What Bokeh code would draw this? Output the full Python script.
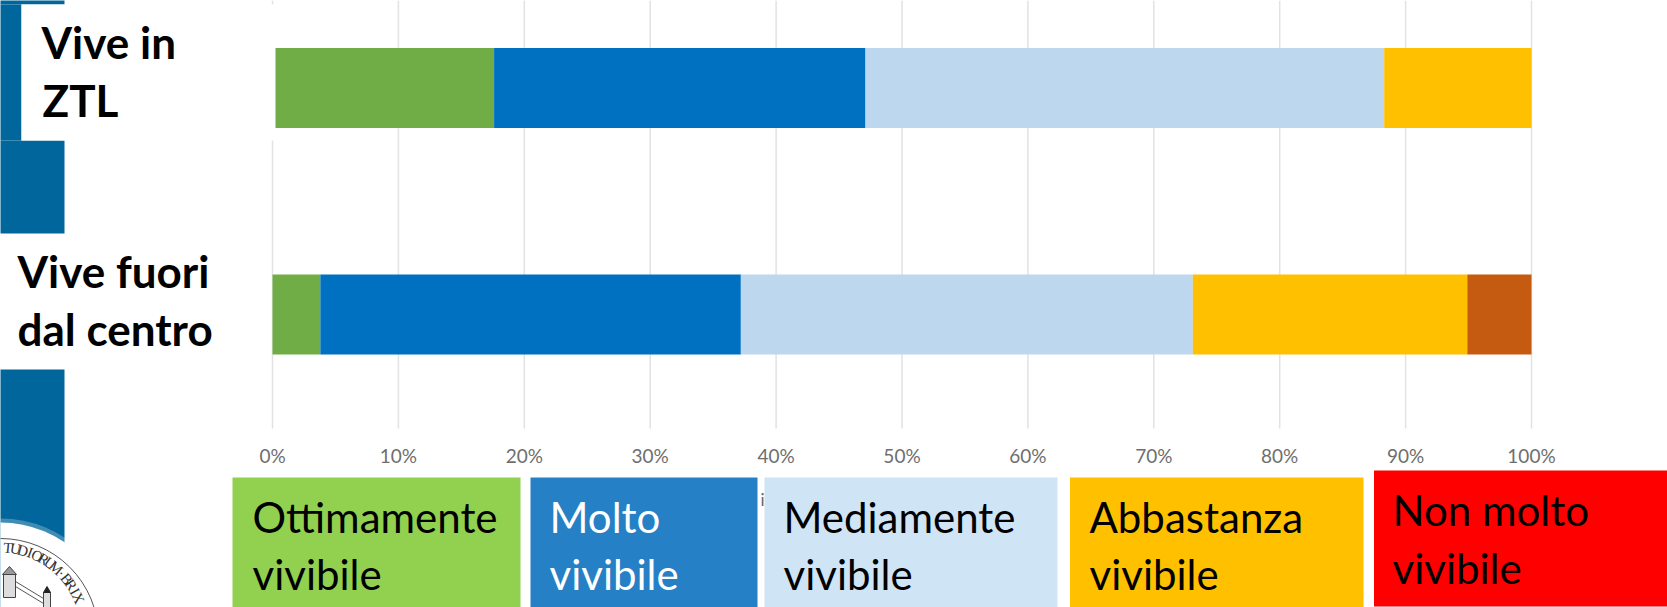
from bokeh.embed import file_html
from bokeh.resources import INLINE
from bokeh.plotting import figure
from bokeh.core.properties import value
from bokeh.models import Range1d, LinearAxis, FixedTicker, PrintfTickFormatter
import math

# ---- data
categories = ["Vive in ZTL", "Vive fuori dal centro"]
ottimamente = [17.6, 3.8]
molto = [29.5, 33.4]
mediamente = [41.2, 35.9]
abbastanza = [11.7, 21.8]
non_molto = [0.0, 5.1]
series_colors = ["#70AD47", "#0070C0", "#BDD7EE", "#FFC000", "#C55A11"]
tick_values = [0, 10, 20, 30, 40, 50, 60, 70, 80, 90, 100]

# ---- layout (page pixels)
W, H = 1667, 607
X0, X100 = 272.0, 1531.0
ROW0, ROW1 = 87.5, 314.0
BAR_PX = 80.0
PX_PER_PCT = (X100 - X0) / 100
PX_PER_ROW = ROW1 - ROW0
px_to_row = lambda y: (y - ROW0) / PX_PER_ROW

p = figure(width=W, height=H, output_backend="svg", toolbar_location=None,
           x_range=Range1d(-X0 / PX_PER_PCT, (W - X0) / PX_PER_PCT),
           y_range=Range1d(px_to_row(H), px_to_row(0)),
           x_axis_location=None, y_axis_location=None,
           min_border=0, outline_line_color=None, background_fill_color="white",
           border_fill_color="white")
p.grid.visible = False
p.extra_x_ranges["px"] = Range1d(0, W)
p.extra_y_ranges["px"] = Range1d(H, 0)
PX = dict(x_range_name="px", y_range_name="px")

# gridlines
p.segment(x0=tick_values, x1=tick_values, y0=[px_to_row(0)] * 11, y1=[px_to_row(428)] * 11,
          line_color="#e2e2e2", line_width=1.5)

# stacked bars
rows = list(range(len(categories)))
left = [0.0] * len(rows)
for vals, col in zip([ottimamente, molto, mediamente, abbastanza, non_molto], series_colors):
    right = [a + b for a, b in zip(left, vals)]
    p.hbar(y=rows, left=left, right=right, height=BAR_PX / PX_PER_ROW, fill_color=col, line_color=None)
    left = right

# axis
ax = LinearAxis(ticker=FixedTicker(ticks=tick_values), formatter=PrintfTickFormatter(format="%d%%"),
                axis_line_color=None, major_tick_line_color=None, minor_tick_line_color=None,
                major_label_text_font="Lato", major_label_text_font_size="19px",
                major_label_text_color="#6e6e6e", major_label_standoff=9,
                fixed_location=px_to_row(428))
p.add_layout(ax, "below")

# slide furniture
BAND = "#00669B"
p.quad(left=[-5, -5, -5], right=[64, 21, 64], top=[-5, 4, 140], bottom=[4, 140, 233],
       fill_color=BAND, line_color=None, **PX)
p.quad(left=[-5], right=[64], top=[369], bottom=[612], fill_color=BAND, line_color=None, **PX)
p.quad(left=[21], right=[275], top=[4], bottom=[140], fill_color="white", line_color=None, **PX)

# bar labels
lab_txt = ["Vive in", "ZTL", "Vive fuori", "dal centro"]
lab_x = [41, 42, 17, 17]
lab_y = [59, 117, 288, 346]
p.text(x=lab_x, y=[v - 18 for v in lab_y], text=lab_txt, text_font=value("Lato"), text_font_style="bold",
       text_font_size="44px", text_color="black", text_baseline="alphabetic", **PX)

# legend boxes
box_l = [232, 530, 764, 1069.5, 1373.5]
box_r = [520, 757, 1057, 1363, 1672]
box_t = [477, 477, 477, 477, 470]
box_c = ["#92D050", "#2580C6", "#CFE4F5", "#FFC000", "#FF0000"]
p.quad(left=box_l, right=box_r, top=box_t, bottom=[612, 612, 612, 612, 606],
       fill_color=box_c, line_color=None, **PX)
leg_first = ["Ottimamente", "Molto", "Mediamente", "Abbastanza", "Non molto"]
leg_second = ["vivibile"] * 5
leg_x = [252, 549, 783, 1089, 1392]
leg_y1 = [533, 533, 533, 533, 526]
leg_y2 = [590, 590, 590, 590, 584]
leg_col = ["black", "white", "black", "black", "black"]
for ys, txt in ((leg_y1, leg_first), (leg_y2, leg_second)):
    p.text(x=leg_x, y=[v - 17 for v in ys], text=txt, text_font=value("Lato"), text_font_size="42px",
           text_color=leg_col, text_baseline="alphabetic", **PX)
p.text(x=[760], y=[499], text=["i"], text_font=value("Lato"), text_font_size="17px",
       text_color="#666666", text_baseline="alphabetic", **PX)

# seal
CX, CY = 0, 636
p.circle(x=[CX], y=[CY], radius=118, fill_color="white", fill_alpha=0.25, line_color=None, **PX)
p.circle(x=[CX], y=[CY], radius=114, fill_color="white", line_color=None, **PX)
p.circle(x=[CX], y=[CY], radius=98, fill_color=None, line_color="#555555", line_width=1, **PX)
seal = "TUDIORUM·BRIX"
TX, TY = 0, 632
angs = [5 + 5.1 * i for i in range(len(seal))]
sx = [TX + 85 * math.sin(math.radians(a)) for a in angs]
sy = [TY - 85 * math.cos(math.radians(a)) for a in angs]
p.text(x=sx, y=sy, text=list(seal), angle=[-math.radians(a) for a in angs],
       text_font=value("Liberation Serif"), text_font_size="15px", text_color="#333333",
       text_align="center", text_baseline="middle", **PX)
# castle sketch
p.quad(left=[3, 43], right=[15, 50], top=[574, 592], bottom=[597, 607],
       fill_color="#dddddd", line_color="#444444", line_width=1, **PX)
p.patch(x=[2, 9, 16], y=[574, 566, 574], fill_color="#999999", line_color="#444444", **PX)
p.patch(x=[43, 46.5, 50], y=[592, 586, 592], fill_color="#222222", line_color="#222222", **PX)
p.multi_line(xs=[[15, 43], [15, 43]], ys=[[581, 598], [586, 603]], line_color="#555555", line_width=1, **PX)

open("out.html", "w").write(file_html(p, INLINE))
